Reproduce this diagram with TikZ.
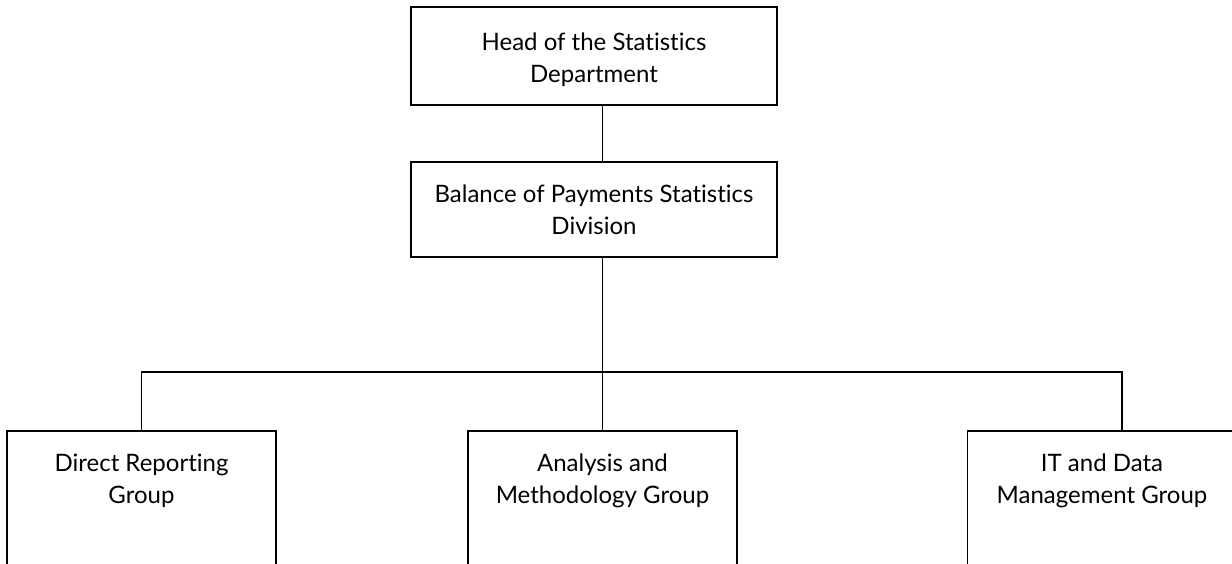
\documentclass[tikz,border=0pt]{standalone}
\usepackage{fontspec}
\setmainfont{Lato}[Ligatures=NoCommon]
\begin{document}
\begin{tikzpicture}[x=1pt,y=-1pt,
  box/.style={draw=black, line width=1.6pt, rectangle, inner sep=0pt},
  lbl/.style={align=center, font=\fontsize{24}{32}\selectfont, inner sep=0pt},
  conn/.style={draw=black, line width=1.6pt}]
\useasboundingbox (0,0) rectangle (1232,563);
\clip (0,0) rectangle (1232,563);
% boxes
\node[box, minimum width=366pt, minimum height=98pt] (head) at (594,56) {};
\node[box, minimum width=366pt, minimum height=95pt] (bop) at (594,209.5) {};
\node[box, minimum width=269pt, minimum height=180pt, anchor=north] (dr) at (141.5,430) {};
\node[box, minimum width=269pt, minimum height=180pt, anchor=north] (am) at (602.5,430) {};
\node[box, minimum width=269pt, minimum height=180pt, anchor=north] (it) at (1102,430) {};
% labels
\node[lbl] (headt) at (594,59.5) {Head of the Statistics\\Department};
\node[lbl] (bopt) at (594,210) {Balance of Payments Statistics\\Division};
\node[lbl] (drt) at (141.5,480.5) {Direct Reporting\\Group};
\node[lbl] (amt) at (602.5,480.5) {Analysis and\\Methodology Group};
\node[lbl] (itt) at (1102,480.5) {IT and Data\\Management Group};
% connectors
\coordinate (bus) at (602.5,372);
\coordinate (itc) at (1122,430);
\draw[conn] (head.south -| am.north) -- (bop.north -| am.north);
\draw[conn] (bop.south -| am.north) -- (am.north);
\draw[conn] (dr.north) |- (bus) -| (itc);
\end{tikzpicture}
\end{document}
